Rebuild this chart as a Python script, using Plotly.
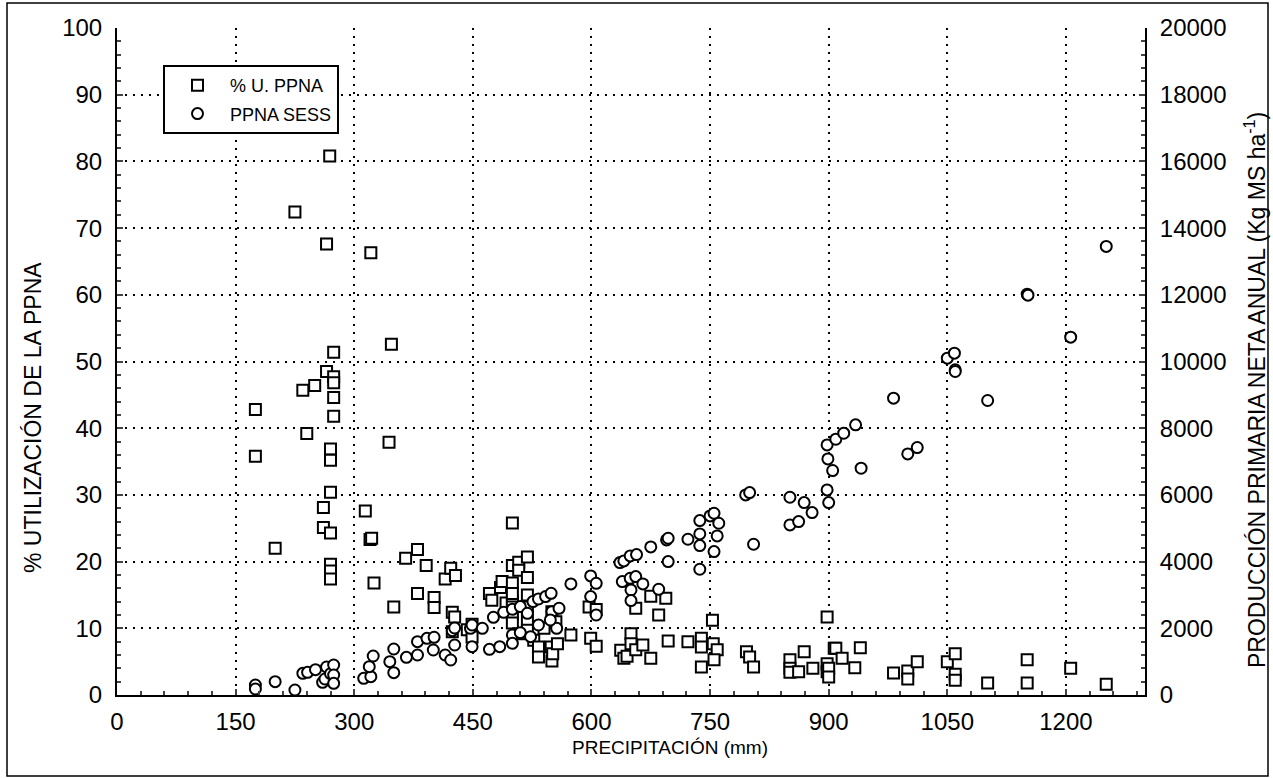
import plotly.graph_objects as go

# % U. PPNA (left axis): precipitation (mm), utilisation (%)
sq_x = [175, 175, 200, 225, 235, 240, 250, 261, 261, 265, 265, 269, 270, 270, 270, 270, 270, 270, 270,
        274, 274, 274, 274, 274,
        314, 320, 322, 321, 325, 344, 347, 350, 365, 380, 380, 391, 401, 401, 415, 422, 428, 424, 427, 424,
        443, 449, 449,
        471, 474, 485, 487, 492, 500, 500, 500, 500, 500, 500, 500, 500, 508, 508, 508, 519, 519, 519, 519,
        519, 519, 527, 533, 533, 540, 549, 550, 550, 551, 555, 557, 574,
        597, 599, 606, 606, 637, 641, 645, 650, 650, 656, 656, 665, 675, 675, 685, 694, 697,
        722, 739, 739, 739, 753, 754, 759, 755, 796, 800, 805,
        851, 851, 851, 862, 869, 880, 898, 898, 898, 900, 900, 907, 909, 917, 933, 940,
        982, 1000, 1000, 1012, 1050, 1060, 1060, 1060, 1101, 1151, 1151, 1206, 1251]
sq_y = [42.8, 35.8, 22.0, 72.4, 45.7, 39.2, 46.4, 28.1, 25.1, 67.6, 48.5, 80.8, 36.9, 35.2, 30.4, 24.3, 19.6, 18.6, 17.4,
        51.4, 47.7, 46.8, 44.6, 41.8,
        27.6, 23.3, 23.5, 66.3, 16.8, 37.9, 52.6, 13.2, 20.5, 21.8, 15.2, 19.4, 14.6, 13.1, 17.4, 19.0, 17.9, 12.4, 11.7, 9.5,
        9.8, 10.6, 8.7,
        15.2, 14.2, 16.1, 17.0, 13.8, 14.0, 25.8, 19.4, 16.8, 15.2, 13.2, 12.2, 10.8, 19.9, 18.7, 9.2, 20.7, 17.6, 15.0, 13.2,
        11.2, 9.7, 8.2, 7.2, 5.7, 10.0, 7.2, 12.5, 5.1, 6.2, 11.0, 7.7, 9.0,
        13.2, 8.5, 12.8, 7.3, 6.7, 5.5, 5.8, 9.2, 7.7, 13.0, 6.8, 7.5, 14.8, 5.5, 12.0, 14.5, 8.1,
        8.0, 8.5, 7.2, 4.2, 11.2, 7.7, 6.8, 5.3, 6.5, 5.7, 4.2,
        5.3, 4.0, 3.4, 3.5, 6.5, 4.0, 11.7, 4.7, 3.5, 4.0, 2.7, 7.0, 7.0, 5.5, 4.1, 7.1,
        3.3, 3.6, 2.4, 5.0, 5.0, 6.2, 3.1, 2.2, 1.8, 5.3, 1.8, 4.0, 1.6]

# PPNA SESS (right axis): precipitation (mm), production (kg MS/ha)
ci_x = [175, 175, 200, 225, 235, 241, 251, 260, 263, 265, 270, 274, 274, 274,
        312, 321, 319, 324, 345, 350, 350, 366, 380, 380, 392, 401, 400, 415, 422, 427, 424, 427, 447,
        449, 449, 462, 471, 484, 476, 489, 500, 500, 500, 510, 510, 519, 523, 526, 533, 533, 542, 549, 550,
        556, 548, 559, 574, 599, 599, 606, 606,
        636, 641, 649, 657, 639, 649, 656, 665, 685, 650, 650, 675, 695, 697, 697, 722, 737, 737, 737, 737,
        750, 755, 761, 759, 755, 795, 800, 805,
        851, 869, 879, 851, 862, 898, 909, 919, 934, 899, 905, 898, 900, 941, 982, 1000, 1012,
        1050, 1059, 1060, 1060, 1101, 1151, 1152, 1206, 1251]
ci_y = [300, 180, 400, 150, 650, 680, 760, 380, 480, 840, 640, 900, 600, 350,
        500, 550, 850, 1170, 1000, 670, 1380, 1130, 1200, 1600, 1700, 1730, 1350, 1200, 1050, 1500, 1930, 2010, 2000,
        2100, 1450, 2000, 1370, 1450, 2330, 2480, 2570, 1800, 1550, 2650, 1870, 2450, 1750, 2800, 2880, 2100, 2950, 3050, 2500,
        2000, 2250, 2600, 3330, 3570, 2950, 3350, 2400,
        3970, 4020, 4170, 4210, 3400, 3500, 3550, 3330, 3170, 3150, 2830, 4440, 4650, 4700, 4000, 4670, 5230, 4830, 4480, 3770,
        5370, 5450, 5150, 4770, 4300, 6000, 6070, 4520,
        5930, 5770, 5470, 5100, 5200, 7500, 7670, 7850, 8100, 7080, 6730, 6150, 5770, 6800, 8900, 7230, 7420,
        10100, 10250, 9750, 9700, 8830, 12020, 11990, 10730, 13450]

x_ticks = [0, 150, 300, 450, 600, 750, 900, 1050, 1200]
yl_ticks = [0, 10, 20, 30, 40, 50, 60, 70, 80, 90, 100]
yr_ticks = [0, 2000, 4000, 6000, 8000, 10000, 12000, 14000, 16000, 18000, 20000]

FONT = "Arial, Liberation Sans, sans-serif"
L, R, T, B = 117, 128, 28, 83
W, H = 1273, 778
pw, ph = W - L - R, H - T - B
TICK = 24

fig = go.Figure()
fig.add_trace(go.Scatter(
    x=sq_x, y=sq_y, mode="markers", name="% U. PPNA", legendgroup="a",
    marker=dict(symbol="square", size=11, color="white", line=dict(color="black", width=2)),
    yaxis="y"))
fig.add_trace(go.Scatter(
    x=ci_x, y=ci_y, mode="markers", name="PPNA SESS", legendgroup="b",
    marker=dict(symbol="circle", size=11, color="white", line=dict(color="black", width=2)),
    yaxis="y2"))

grid = dict(showgrid=True, gridcolor="black", gridwidth=1.5, griddash="2px,6px")
fig.update_layout(
    width=W, height=H,
    margin=dict(l=L, r=R, t=T, b=B),
    paper_bgcolor="white", plot_bgcolor="white",
    font=dict(family=FONT, color="black", size=TICK),
    showlegend=True,
    legend=dict(x=(163 - L) / pw, y=(H - B - 65) / ph, xanchor="left", yanchor="top",
                bordercolor="black", borderwidth=2, bgcolor="white",
                font=dict(size=18, family=FONT), traceorder="grouped", tracegroupgap=2,
                itemwidth=55),
    xaxis=dict(range=[0, 1300], tickvals=x_ticks, ticks="inside", ticklen=6, tickwidth=1.5,
               showline=True, linecolor="black", linewidth=2, zeroline=False,
               minor=dict(dtick=30, ticks="inside", ticklen=4, tickwidth=1.5, showgrid=False),
               tickfont=dict(size=TICK), ticklabelstandoff=4, **grid),
    yaxis=dict(range=[0, 100], tickvals=yl_ticks, ticks="inside", ticklen=6, tickwidth=1.5,
               showline=True, linecolor="black", linewidth=2, zeroline=False,
               minor=dict(dtick=2, ticks="inside", ticklen=4, tickwidth=1.5, showgrid=False),
               tickfont=dict(size=TICK), ticklabelstandoff=8, **grid),
    yaxis2=dict(range=[0, 20000], tickvals=yr_ticks, tickformat="d", overlaying="y", side="right",
                ticks="inside", ticklen=6, tickwidth=1.5,
                showline=True, linecolor="black", linewidth=2, zeroline=False, showgrid=False,
                minor=dict(dtick=400, ticks="inside", ticklen=4, tickwidth=1.5),
                tickfont=dict(size=TICK), ticklabelstandoff=8),
)

fig.add_annotation(text="PRECIPITACIÓN (mm)", xref="paper", yref="paper",
                   x=(670 - L) / pw, y=-(747 - (H - B)) / ph, xanchor="center", yanchor="middle",
                   showarrow=False, font=dict(size=19))
fig.add_annotation(text="% UTILIZACIÓN DE LA PPNA", xref="paper", yref="paper",
                   x=(33 - L) / pw, y=(H - B - 418) / ph, xanchor="center", yanchor="middle",
                   textangle=-90, showarrow=False, font=dict(size=23))
fig.add_annotation(text="PRODUCCIÓN PRIMARIA NETA ANUAL (Kg MS ha<sup>-1</sup>)", xref="paper", yref="paper",
                   x=(1255 - L) / pw, y=(H - B - 390) / ph, xanchor="center", yanchor="middle",
                   textangle=-90, showarrow=False, font=dict(size=23))

fig.add_shape(type="rect", xref="paper", yref="paper",
              x0=(7 - L) / pw, x1=(1268 - L) / pw, y0=(H - B - 776) / ph, y1=(H - B - 3) / ph,
              line=dict(color="black", width=1.5), layer="below")

fig.write_html("out.html")
